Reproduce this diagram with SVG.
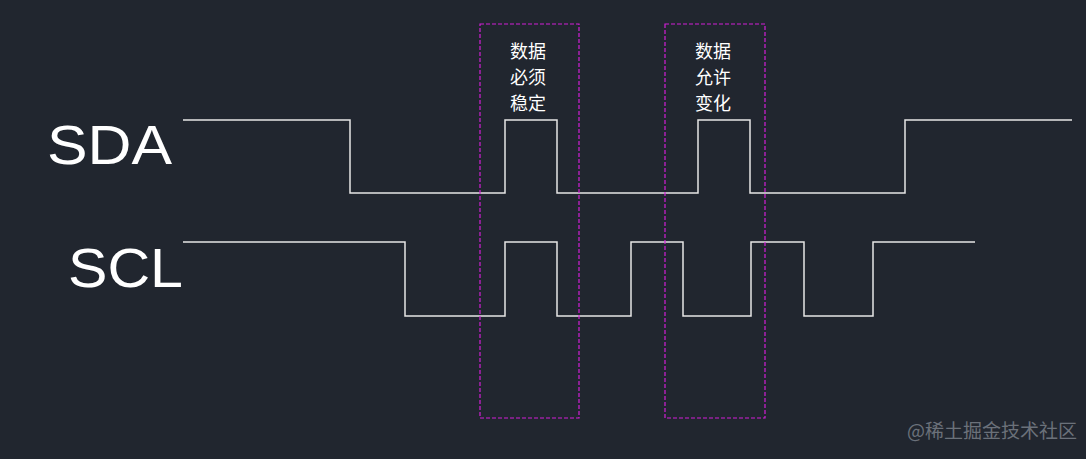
<svg xmlns="http://www.w3.org/2000/svg" width="1086" height="459" viewBox="0 0 1086 459">
<style>
.sig{fill:none;stroke:#e6e6e6;stroke-width:1.5}
.box{fill:none;stroke:#d21ed7;stroke-width:1.2;stroke-dasharray:4 2}
.lbl{font-family:"Liberation Sans",Arial,sans-serif;font-size:56px;fill:#ffffff}
.cn{font-family:"Noto Sans CJK SC",sans-serif;font-size:18px;fill:#ffffff}
.wm{font-family:"Noto Sans CJK SC",sans-serif;font-size:19px;fill:#6b717a}
</style>
<rect width="1086" height="459" fill="#21262f"/>
<g id="labels">
<text class="lbl" x="47" y="164" textLength="125" lengthAdjust="spacingAndGlyphs">SDA</text>
<text class="lbl" x="68" y="287" textLength="115" lengthAdjust="spacingAndGlyphs">SCL</text>
</g>
<g id="connectors">
<polyline id="sda" class="sig" points="183,120 350,120 350,193 505,193 505,120 557,120 557,193 698,193 698,120 750,120 750,193 905,193 905,120 1072,120"/>
<polyline id="scl" class="sig" points="183,242 405,242 405,316 505,316 505,242 557,242 557,316 631,316 631,242 683,242 683,316 751,316 751,242 804,242 804,316 873,316 873,242 975,242"/>
</g>
<g id="box1">
<rect class="box" x="480" y="24" width="99" height="394"/>
<text class="cn" x="528" y="58" text-anchor="middle">数据</text>
<text class="cn" x="528" y="84" text-anchor="middle">必须</text>
<text class="cn" x="528" y="110" text-anchor="middle">稳定</text>
</g>
<g id="box2">
<rect class="box" x="665" y="24" width="100" height="394"/>
<text class="cn" x="713" y="58" text-anchor="middle">数据</text>
<text class="cn" x="713" y="84" text-anchor="middle">允许</text>
<text class="cn" x="713" y="110" text-anchor="middle">变化</text>
</g>
<text class="wm" x="907" y="438">@稀土掘金技术社区</text>
</svg>
